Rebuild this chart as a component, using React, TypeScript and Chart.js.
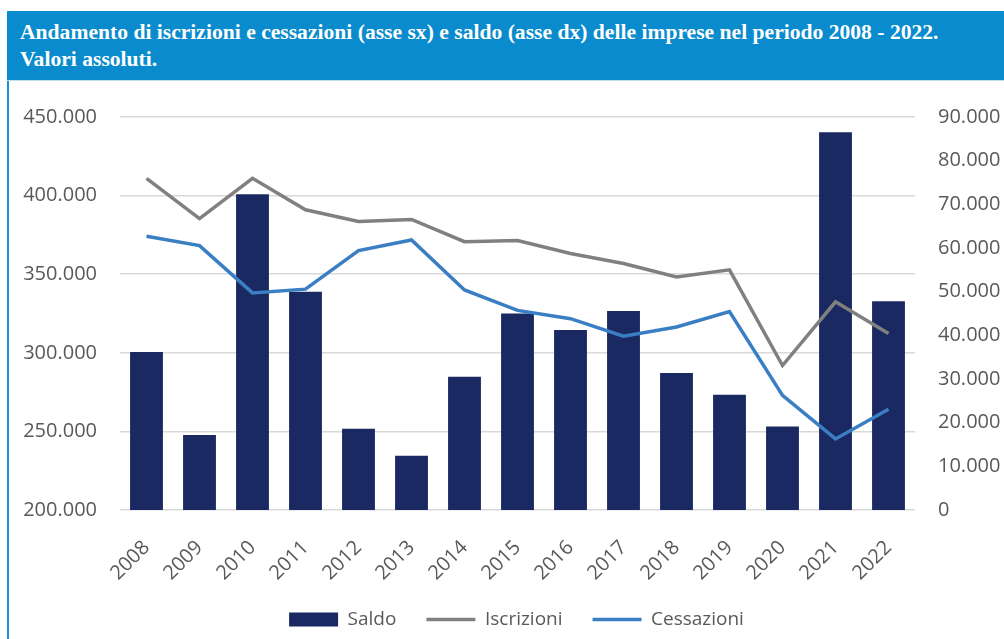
import React, { useEffect, useRef } from "react";
import { Chart, registerables } from "chart.js";

Chart.register(...registerables);

const years = ["2008","2009","2010","2011","2012","2013","2014","2015","2016","2017","2018","2019","2020","2021","2022"];
const saldo = [36200, 17200, 72300, 50000, 18600, 12400, 30500, 45000, 41200, 45600, 31400, 26400, 19100, 86500, 47800];
const iscrizioni = [411000, 385400, 411000, 391000, 383500, 384800, 370700, 371400, 363200, 356800, 348300, 352800, 291900, 332400, 312300];
const cessazioni = [374100, 368200, 338100, 340500, 365000, 371800, 340000, 327000, 321700, 310600, 316400, 326200, 272900, 245200, 264100];

const leftTicks = { min: 200000, max: 450000, step: 50000 };
const rightTicks = { min: 0, max: 90000, step: 10000 };

const title1 = "Andamento di iscrizioni e cessazioni (asse sx) e saldo (asse dx) delle imprese nel periodo 2008 - 2022.";
const title2 = "Valori assoluti.";

const fmt = (v: number) => String(Math.round(v)).replace(/\B(?=(\d{3})+(?!\d))/g, ".");

const TXT = "#595959";
const FONT = "'Open Sans', 'Noto Sans', sans-serif";

const legendShift = {
  id: "legendShift",
  afterLayout(chart: any) {
    if (chart.legend) {
      chart.legend.left += 10;
      chart.legend.right += 10;
    }
  },
};

export default function App() {
  const ref = useRef<HTMLCanvasElement | null>(null);

  useEffect(() => {
    if (!ref.current) return;
    const chart = new Chart(ref.current, {
      type: "bar",
      data: {
        labels: years,
        datasets: [
          {
            type: "bar",
            label: "Saldo",
            data: saldo,
            yAxisID: "y1",
            backgroundColor: "#1b2962",
            borderWidth: 0,
            categoryPercentage: 1,
            barPercentage: 0.62,
            order: 2,
            pointStyle: "rect",
          } as any,
          {
            type: "line",
            label: "Iscrizioni",
            data: iscrizioni,
            yAxisID: "y",
            borderColor: "#808080",
            backgroundColor: "#808080",
            borderWidth: 3.5,
            pointRadius: 0,
            pointStyle: "line",
            tension: 0,
            order: 1,
          } as any,
          {
            type: "line",
            label: "Cessazioni",
            data: cessazioni,
            yAxisID: "y",
            borderColor: "#3a7ec3",
            backgroundColor: "#3a7ec3",
            borderWidth: 3.5,
            pointRadius: 0,
            pointStyle: "line",
            tension: 0,
            order: 1,
          } as any,
        ],
      },
      plugins: [legendShift],
      options: {
        animation: false,
        responsive: false,
        maintainAspectRatio: false,
        layout: { padding: { top: 26, bottom: 0, left: 0, right: 0 } },
        plugins: {
          tooltip: { enabled: false },
          legend: {
            position: "bottom",
            labels: {
              usePointStyle: true,
              pointStyleWidth: 49,
              boxHeight: 14,
              padding: 30,
              color: TXT,
              font: { family: FONT, size: 19 },
              sort: (a: any, b: any) => a.datasetIndex - b.datasetIndex,
            },
          },
        },
        scales: {
          x: {
            grid: { display: false },
            border: { display: false },
            ticks: {
              color: TXT,
              font: { family: FONT, size: 20 },
              minRotation: 45,
              maxRotation: 45,
              padding: 18,
            },
            afterFit: (s: any) => { s.height = 70; },
          },
          y: {
            position: "left",
            min: leftTicks.min,
            max: leftTicks.max,
            border: { display: false },
            grid: { color: "#d9d9d9", lineWidth: 1.5, drawTicks: false },
            ticks: {
              stepSize: leftTicks.step,
              color: TXT,
              font: { family: FONT, size: 20 },
              padding: 23,
              callback: (v: any) => fmt(Number(v)),
            },
            afterFit: (s: any) => { s.width = 111; },
          },
          y1: {
            position: "right",
            min: rightTicks.min,
            max: rightTicks.max,
            border: { display: false },
            grid: { display: false, drawTicks: false },
            ticks: {
              stepSize: rightTicks.step,
              color: TXT,
              font: { family: FONT, size: 20 },
              padding: 23,
              callback: (v: any) => fmt(Number(v)),
            },
            afterFit: (s: any) => { s.width = 89; },
          },
        },
      } as any,
    });
    return () => chart.destroy();
  }, []);

  return (
    <div style={{ position: "absolute", left: 0, top: 0, width: 1004, height: 639, background: "#fff", overflow: "hidden" }}>
      <div
        style={{
          position: "absolute",
          left: 7,
          top: 11,
          width: 997,
          height: 70,
          background: "#0a8bcd",
          borderBottom: "1px solid #bfe0f2",
          color: "#fff",
          fontFamily: "'Liberation Serif', 'DejaVu Serif', serif",
          fontWeight: "bold",
          fontSize: 21.6,
          lineHeight: "27px",
          boxSizing: "border-box",
          padding: "8px 0 0 13px",
          whiteSpace: "nowrap",
        }}
      >
        <div>{title1}</div>
        <div>{title2}</div>
      </div>
      <div style={{ position: "absolute", left: 7, top: 81, width: 2, height: 558, background: "#1a90d6" }} />
      <canvas ref={ref} width={995} height={557} style={{ position: "absolute", left: 9, top: 82, width: 995, height: 557 }} />
    </div>
  );
}
